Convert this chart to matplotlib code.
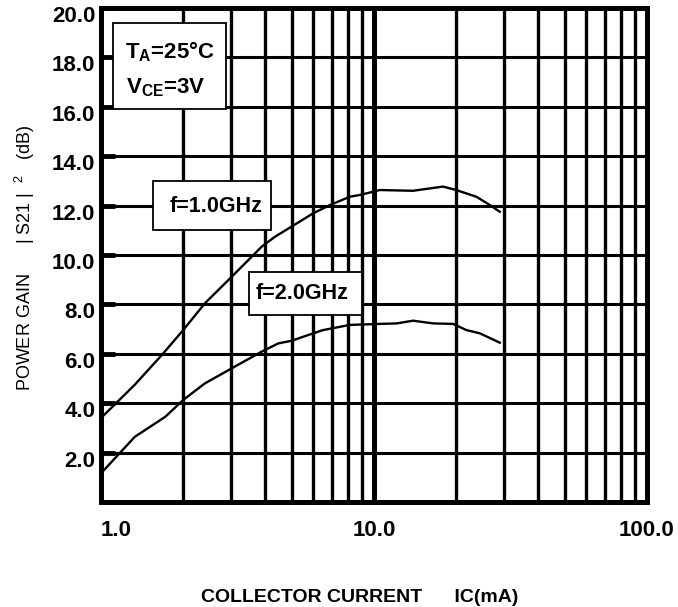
import numpy as np
import matplotlib.pyplot as plt
import matplotlib.transforms as mtransforms
from matplotlib.patches import Rectangle
from matplotlib.ticker import NullFormatter

plt.rcParams['font.family'] = ['Liberation Sans', 'DejaVu Sans']
plt.rcParams['mathtext.fontset'] = 'custom'
plt.rcParams['mathtext.rm'] = 'Liberation Sans'
plt.rcParams['mathtext.bf'] = 'Liberation Sans:bold'

# ---- data ----
ic_1g = [1.0, 1.33, 1.67, 2.0, 2.4, 2.93, 3.37, 3.88, 4.34, 4.99, 5.99,
         6.89, 8.16, 8.88, 10.5, 13.9, 17.9, 20.0, 23.7, 26.6, 28.9]
gain_1g = [3.4, 4.75, 5.95, 6.96, 8.04, 8.99, 9.66, 10.34, 10.74, 11.15, 11.69,
           12.02, 12.36, 12.43, 12.63, 12.6, 12.77, 12.63, 12.36, 12.02, 11.75]

ic_2g = [1.0, 1.33, 1.72, 2.0, 2.4, 3.09, 3.88, 4.46, 5.0, 5.5, 6.5,
         8.16, 10.5, 12.1, 13.9, 16.5, 19.5, 21.8, 24.4, 28.9]
gain_2g = [1.16, 2.64, 3.45, 4.13, 4.8, 5.48, 6.09, 6.42, 6.53, 6.69, 6.96,
           7.17, 7.21, 7.23, 7.34, 7.23, 7.21, 6.96, 6.83, 6.45]

y_ticks = [2, 4, 6, 8, 10, 12, 14, 16, 18, 20]
y_labels = ['2.0', '4.0', '6.0', '8.0', '10.0', '12.0', '14.0', '16.0', '18.0', '20.0']
x_ticks = [1, 10, 100]
x_labels = ['1.0', '10.0', '100.0']

W, H = 678, 607
fig = plt.figure(figsize=(W / 100, H / 100), dpi=100)
ax = fig.add_axes([101 / W, 1 - 502 / H, 546 / W, 494 / H])

ax.set_xscale('log')
ax.set_xlim(1, 100)
ax.set_ylim(0, 20)

# heavy grid like the datasheet
minor = [m * d for d in (1, 10) for m in range(2, 10)]
for xv in minor:
    ax.axvline(xv, color='black', lw=2.4, zorder=1)
ax.axvline(10, color='black', lw=3.6, zorder=1)
for yv in y_ticks[:-1]:
    ax.axhline(yv, color='black', lw=2.2, zorder=1)

for s in ax.spines.values():
    s.set_linewidth(3.6)

ax.plot(ic_1g, gain_1g, color='black', lw=1.7, zorder=3)
ax.plot(ic_2g, gain_2g, color='black', lw=1.7, zorder=3)

ax.set_yticks(y_ticks)
ax.set_yticklabels(y_labels, fontsize=16, fontweight='bold')
ax.tick_params(axis='y', direction='in', length=10, width=3.5, pad=4)
# labels sit a little below their grid lines in the original
shift = mtransforms.ScaledTranslation(0, -6 / 100, fig.dpi_scale_trans)
for lbl in ax.get_yticklabels():
    lbl.set_transform(lbl.get_transform() + shift)
ax.set_xticks(x_ticks)
ax.set_xticklabels(x_labels, fontsize=16, fontweight='bold')
ax.xaxis.set_minor_formatter(NullFormatter())
ax.tick_params(axis='x', which='both', length=0, pad=13)
ax.get_xticklabels()[0].set_horizontalalignment('left')


def px_box(x0, y0, x1, y1):
    r = Rectangle((x0 / W, 1 - y1 / H), (x1 - x0) / W, (y1 - y0) / H,
                  transform=fig.transFigure, facecolor='white',
                  edgecolor='black', lw=1.3, zorder=5)
    fig.add_artist(r)


px_box(113, 23, 226, 109)
fig.text(170 / W, 1 - 52 / H, r'T$_\mathbf{A}$=25°C', fontsize=16, fontweight='bold',
         ha='center', va='center', zorder=6)
fig.text(166 / W, 1 - 88 / H, r'V$_\mathbf{CE}$=3V', fontsize=16, fontweight='bold',
         ha='center', va='center', zorder=6)

px_box(153, 181, 271, 230)
fig.text(216 / W, 1 - 206 / H, 'f=1.0GHz', fontsize=15.5, fontweight='bold',
         ha='center', va='center', zorder=6)
px_box(249, 272, 362, 315)
fig.text(302 / W, 1 - 294 / H, 'f=2.0GHz', fontsize=15.5, fontweight='bold',
         ha='center', va='center', zorder=6)

fig.text(25 / W, 1 - 258 / H, r'POWER GAIN      | S21 |  $^2$   (dB)', fontsize=13,
         rotation=90, ha='center', va='center')
fig.text(360 / W, 1 - 597 / H, 'COLLECTOR CURRENT      IC(mA)', fontsize=14,
         fontweight='bold', ha='center', va='center')

fig.savefig('out.png', dpi=100)
